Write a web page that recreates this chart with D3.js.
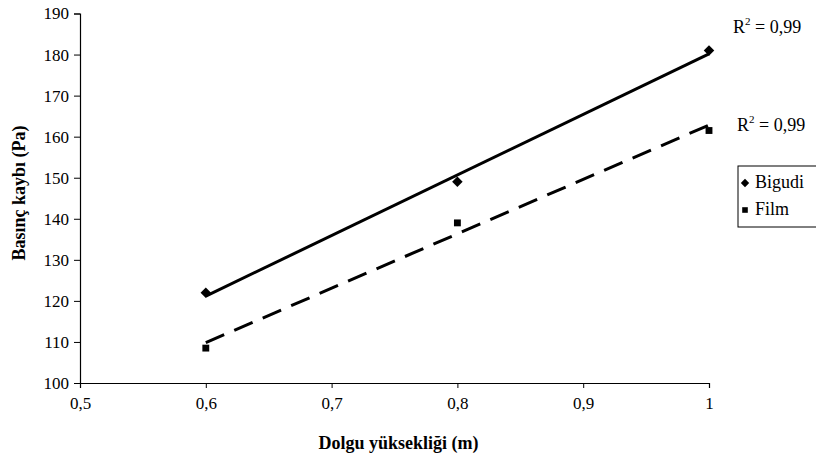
<!DOCTYPE html>
<html>
<head>
<meta charset="utf-8">
<script src="https://cdn.jsdelivr.net/npm/d3@7"></script>
<style>
	body { margin: 0; background: #fff; }
	.axis-title { font-size: 18px; font-weight: bold; }
</style>
</head>
<body>
<div id="chart"></div>
<script>
//chart data
const heights = [0.6, 0.8, 1];          // Dolgu yüksekliği (m)
const bigudi = [122, 149, 181];         // Basınç kaybı (Pa)
const film = [108.5, 139, 161.5];
const seriesNames = ['Bigudi', 'Film'];
const r2Labels = ['0,99', '0,99'];
const xTicks = [0.5, 0.6, 0.7, 0.8, 0.9, 1];
const yTicks = [100, 110, 120, 130, 140, 150, 160, 170, 180, 190];

const FONT = '"Liberation Serif", "Times New Roman", serif';

const W = 816, H = 459;
const margin = {top: 13.5, right: 107, bottom: 76, left: 80};
const width = W - margin.left - margin.right;
const height = H - margin.top - margin.bottom;

const x = d3.scaleLinear().domain([0.5, 1]).range([0, width]);
const y = d3.scaleLinear().domain([100, 190]).range([height, 0]);

const comma = d => String(d).replace('.', ',');

const svg = d3.select('#chart').append('svg')
	.attr('width', W)
	.attr('height', H)
	.style('font-family', FONT);

const g = svg.append('g')
	.attr('transform', `translate(${margin.left},${margin.top})`);

// axes
g.append('g')
	.attr('class', 'xaxis')
	.attr('transform', `translate(0,${height})`)
	.call(d3.axisBottom(x).tickValues(xTicks).tickSize(5).tickPadding(9).tickFormat(comma));

g.append('g')
	.attr('class', 'yaxis')
	.call(d3.axisLeft(y).tickValues(yTicks).tickSize(6).tickPadding(5).tickFormat(d3.format('d')));

g.selectAll('.xaxis, .yaxis')
	.attr('font-family', FONT)
	.attr('font-size', 17);
g.selectAll('.domain').attr('stroke', '#000').attr('stroke-width', 1.2);
g.selectAll('.tick line').attr('stroke', '#000');
g.selectAll('.tick text')
	.style('font-family', FONT)
	.style('font-size', '17px')
	.attr('fill', '#000');

// axis titles
svg.append('text')
	.attr('class', 'axis-title')
	.attr('x', margin.left + width / 2 + 4)
	.attr('y', 449)
	.attr('text-anchor', 'middle')
	.text('Dolgu yüksekliği (m)');

svg.append('text')
	.attr('class', 'axis-title')
	.attr('transform', `translate(25,${193}) rotate(-90)`)
	.attr('text-anchor', 'middle')
	.text('Basınç kaybı (Pa)');

// least squares trend line
function trend(xs, ys){
	let mx = d3.mean(xs), my = d3.mean(ys);
	let b = d3.sum(xs, (v, i) => (v - mx) * (ys[i] - my)) / d3.sum(xs, v => (v - mx) * (v - mx));
	let a = my - b * mx;
	let ext = d3.extent(xs);
	return ext.map(v => [v, a + b * v]);
}

const line = d3.line().x(d => x(d[0])).y(d => y(d[1]));

g.append('path')
	.datum(trend(heights, bigudi))
	.attr('d', line)
	.attr('fill', 'none')
	.attr('stroke', '#000')
	.attr('stroke-width', 3);

g.append('path')
	.datum(trend(heights, film))
	.attr('d', line)
	.attr('fill', 'none')
	.attr('stroke', '#000')
	.attr('stroke-width', 3)
	.attr('stroke-dasharray', '20,11');

// markers
const diamond = d3.symbol().type(d3.symbolDiamond2).size(70);
const square = d3.symbol().type(d3.symbolSquare2).size(60);

g.selectAll('.pt-bigudi')
	.data(heights.map((h, i) => [h, bigudi[i]]))
	.join('path')
	.attr('class', 'pt-bigudi')
	.attr('transform', d => `translate(${x(d[0])},${y(d[1])})`)
	.attr('d', diamond)
	.attr('fill', '#000');

g.selectAll('.pt-film')
	.data(heights.map((h, i) => [h, film[i]]))
	.join('path')
	.attr('class', 'pt-film')
	.attr('transform', d => `translate(${x(d[0])},${y(d[1])})`)
	.attr('d', square)
	.attr('fill', '#000');

// R^2 labels
const r2pos = [[733, 33], [737, 131]];
r2Labels.forEach((r, i) => {
	let t = svg.append('text')
		.attr('x', r2pos[i][0])
		.attr('y', r2pos[i][1])
		.style('font-size', '18px');
	t.append('tspan').text('R');
	t.append('tspan').attr('dy', -8).style('font-size', '11px').text('2');
	t.append('tspan').attr('dy', 8).text(' = ' + r);
});

// legend
const legend = svg.append('g').attr('transform', 'translate(738,166)');
legend.append('rect')
	.attr('width', 90).attr('height', 61)
	.attr('fill', '#fff')
	.attr('stroke', '#000')
	.attr('stroke-width', 1);

const lg = legend.selectAll('.item')
	.data(seriesNames)
	.join('g')
	.attr('class', 'item')
	.attr('transform', (d, i) => `translate(0,${17 + i * 27})`);

lg.append('path')
	.attr('transform', 'translate(7,0)')
	.attr('d', (d, i) => (i === 0 ? d3.symbol().type(d3.symbolDiamond2).size(45) : d3.symbol().type(d3.symbolSquare2).size(40))())
	.attr('fill', '#000');

lg.append('text')
	.attr('x', 17)
	.attr('y', 5)
	.style('font-size', '18px')
	.text(d => d);
</script>
</body>
</html>
